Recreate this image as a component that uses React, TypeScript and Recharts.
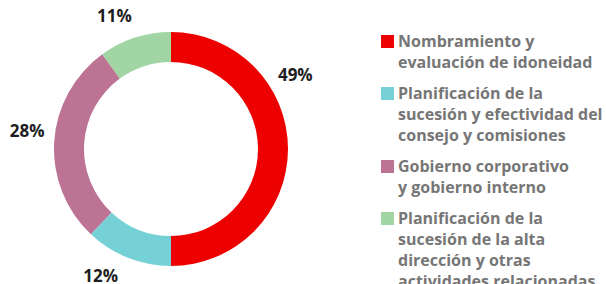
import { PieChart, Pie, Cell } from 'recharts'

const categories = [
  ['Nombramiento y', 'evaluación de idoneidad'],
  ['Planificación de la', 'sucesión y efectividad del', 'consejo y comisiones'],
  ['Gobierno corporativo', 'y gobierno interno'],
  ['Planificación de la', 'sucesión de la alta', 'dirección y otras', 'actividades relacionadas'],
]
// slice sizes as drawn, printed labels as shown
const shares = [50, 12, 28, 10]
const labels = ['49%', '12%', '28%', '11%']

const COLORS = ['#ec0000', '#76d1d6', '#bc7394', '#a1d5a4']
// labels in the original sit off the slice midpoints
const LABEL_SHIFT = [31, -7.4, -3.9, 5]
const FONT = '"Open Sans", sans-serif'
const RAD = Math.PI / 180

const data = shares.map((value, i) => ({ name: categories[i].join(' '), value }))

function renderLabel(props: any) {
  const { cx, cy, midAngle, index } = props
  const a = (midAngle + LABEL_SHIFT[index]) * RAD
  const r = 145
  return (
    <text
      x={cx + r * Math.cos(-a)}
      y={cy + r * Math.sin(-a)}
      textAnchor="middle"
      dominantBaseline="central"
      fill="#1e1e1e"
      fontFamily={FONT}
      fontWeight={700}
      fontSize={17}
    >
      {labels[index]}
    </text>
  )
}

export default function App() {
  return (
    <div style={{ position: 'absolute', left: 0, top: 0, width: 606, height: 284, background: '#fff', overflow: 'hidden' }}>
      <PieChart width={370} height={284} margin={{ top: 0, right: 0, bottom: 0, left: 0 }}>
        <Pie
          data={data}
          dataKey="value"
          cx={171}
          cy={149}
          innerRadius={87}
          outerRadius={117}
          startAngle={90}
          endAngle={-270}
          stroke="none"
          label={renderLabel}
          labelLine={false}
          isAnimationActive={false}
        >
          {data.map((_, i) => (
            <Cell key={`cell-${i}`} fill={COLORS[i]} />
          ))}
        </Pie>
      </PieChart>
      <div style={{ position: 'absolute', left: 381, top: 31, fontFamily: FONT, fontWeight: 700, fontSize: 16, lineHeight: '21px', color: '#767676' }}>
        {categories.map((lines, i) => (
          <div key={i} style={{ display: 'flex', alignItems: 'flex-start', marginBottom: 10 }}>
            <div style={{ width: 13, height: 13, background: COLORS[i], marginTop: 4, marginRight: 4, flexShrink: 0 }} />
            <div>
              {lines.map((l, j) => (
                <div key={j} style={{ whiteSpace: 'nowrap' }}>{l}</div>
              ))}
            </div>
          </div>
        ))}
      </div>
    </div>
  )
}
